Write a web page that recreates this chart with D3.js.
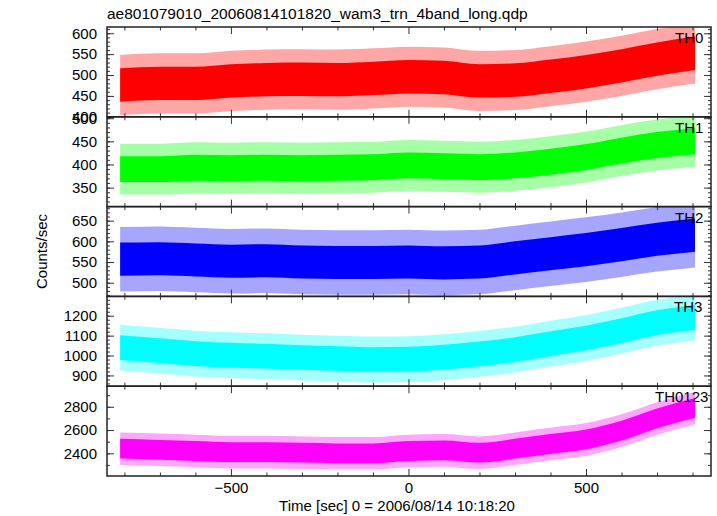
<!DOCTYPE html>
<html><head><meta charset="utf-8">
<script src="https://cdn.jsdelivr.net/npm/d3@7"></script>
<style>
body{margin:0;background:#fff}
svg{display:block}
text{font-family:"Liberation Sans",Arial,Helvetica,sans-serif;fill:#000}
</style>
</head><body>
<svg id="c" width="717" height="516"></svg>
<script>
// ---- data (time in s, rates in counts/sec) ----
const title = "ae801079010_20060814101820_wam3_trn_4band_long.qdp";
const xLabel = "Time [sec] 0 = 2006/08/14 10:18:20";
const yLabel = "Counts/sec";
const bandNames = ["TH0", "TH1", "TH2", "TH3", "TH0123"];
const bandColors = ["#ff0000", "#00ff00", "#0000ff", "#00ffff", "#ff00ff"];
const times = [-812,-700,-600,-500,-400,-300,-200,-100,0,100,200,300,400,500,600,700,807];
const th0    = [476,480,480,486,489,490,489,492,496,494,486,488,497,508,522,538,552];
const th1    = [390,390,393,392,393,392,393,394,398,396,394,398,406,416,430,442,450];
const th2    = [557,558,555,552,553,550,549,549,550,548,550,560,570,580,592,605,615];
const th3    = [1040,1025,1010,1002,997,990,985,980,982,992,1008,1030,1060,1088,1125,1165,1190];
const th0123 = [2440,2430,2420,2410,2410,2405,2400,2400,2420,2425,2405,2440,2480,2520,2595,2700,2790];
// typical scatter half-width (dense core) and spike reach for each band
const coreSpread  = [40, 28, 40, 62, 85];
const spikeSpread = [72, 55, 78, 115, 140];
// axis ranges and ticks
const xDomain = [-849, 852];
const xMajor = [-500, 0, 500];
const xMinor = [-800,-700,-600,-400,-300,-200,-100,100,200,300,400,600,700,800];
const yDomains = [[400,615],[309,503],[467,684],[846,1297],[2205,2977]];
const yMajors = [[400,450,500,550,600],[350,400,450,500],[500,550,600,650],[900,1000,1100,1200],[2400,2600,2800]];
const yMinorSteps = [10,10,10,20,100];
const rates = [th0, th1, th2, th3, th0123];

// ---- layout ----
const svg = d3.select("#c");
const L = 107, R = 711, T = 27, B = 476;
const nP = 5, pH = (B - T) / nP;
const x = d3.scaleLinear().domain(xDomain).range([L, R]);
const fs = 15;

svg.append("text").attr("x", L).attr("y", 19).attr("font-size", 15.5).text(title);
svg.append("text").attr("x", 397).attr("y", 511).attr("text-anchor","middle").attr("font-size", fs).text(xLabel);
svg.append("text").attr("transform", `translate(47,${(T+B)/2}) rotate(-90)`).attr("text-anchor","middle").attr("font-size", fs).text(yLabel);

const labelX = [675, 675, 675, 674, 655];

rates.forEach((vals, i) => {
  const top = T + i * pH, bot = top + pH;
  const y = d3.scaleLinear().domain(yDomains[i]).range([bot, top]);
  const g = svg.append("g");
  const cid = "clip" + i;
  svg.append("clipPath").attr("id", cid).append("rect").attr("x", L).attr("y", top).attr("width", R - L).attr("height", pH);
  const pts = times.map((t, k) => ({t, v: vals[k]}));
  const dg = g.append("g").attr("clip-path", `url(#${cid})`);
  const areaOuter = d3.area().x(d => x(d.t)).y0(d => y(d.v - spikeSpread[i])).y1(d => y(d.v + spikeSpread[i])).curve(d3.curveMonotoneX);
  const areaCore = d3.area().x(d => x(d.t)).y0(d => y(d.v - coreSpread[i])).y1(d => y(d.v + coreSpread[i])).curve(d3.curveMonotoneX);
  dg.append("path").datum(pts).attr("d", areaOuter).attr("fill", bandColors[i]).attr("fill-opacity", 0.35);
  dg.append("path").datum(pts).attr("d", areaCore).attr("fill", bandColors[i]);

  // y axes
  const yMinorVals = d3.range(Math.ceil(yDomains[i][0] / yMinorSteps[i]) * yMinorSteps[i], yDomains[i][1], yMinorSteps[i]);
  const ax = (axis, tx, vals, size, labels) => {
    const a = g.append("g").attr("transform", tx).call(axis(y).tickValues(vals).tickSizeInner(size).tickSizeOuter(0).tickPadding(10).tickFormat(labels ? d3.format("d") : ""));
    a.select(".domain").remove();
    a.selectAll("line").attr("stroke", "#333");
    a.selectAll("text").attr("font-size", fs).attr("font-family", null).attr("fill", "#000");
  };
  ax(d3.axisLeft, `translate(${L},0)`, yMinorVals, -3, false);
  ax(d3.axisLeft, `translate(${L},0)`, yMajors[i], -7, true);
  ax(d3.axisRight, `translate(${R},0)`, yMinorVals, -3, false);
  ax(d3.axisRight, `translate(${R},0)`, yMajors[i], -7, false);

  // x axes
  const xa = (axis, ty, vals, size, labels) => {
    const a = g.append("g").attr("transform", `translate(0,${ty})`).call(axis(x).tickValues(vals).tickSizeInner(size).tickSizeOuter(0).tickPadding(6).tickFormat(labels ? d3.format("d") : ""));
    a.select(".domain").remove();
    a.selectAll("line").attr("stroke", "#333");
    a.selectAll("text").attr("font-size", fs).attr("font-family", null).attr("fill", "#000");
  };
  xa(d3.axisTop, top, xMinor, -3.5, false);
  xa(d3.axisTop, top, xMajor, -7, false);
  xa(d3.axisBottom, bot, xMinor, -3.5, false);
  xa(d3.axisBottom, bot, xMajor, -7, i === nP - 1);

  g.append("rect").attr("x", L).attr("y", top).attr("width", R - L).attr("height", pH)
    .attr("fill", "none").attr("stroke", "#222").attr("stroke-width", 1.5);
  g.append("text").attr("x", labelX[i]).attr("y", top + 16).attr("font-size", fs).text(bandNames[i]);
});
</script>
</body></html>
